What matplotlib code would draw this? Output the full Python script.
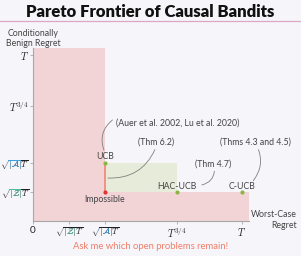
import matplotlib
matplotlib.use("Agg")
import matplotlib.pyplot as plt
from matplotlib.patches import Rectangle
from matplotlib.transforms import Bbox

plt.rcParams["font.family"] = ["Lato", "DejaVu Sans"]
plt.rcParams["mathtext.fontset"] = "cm"

BG = "#f6f5fa"
PINK = "#f2d3d6"
GREEN = "#e6ecd9"
GRAY = "#a8a8a8"
TXT = "#444444"
BLUE = "#3aa0e0"
TEAL = "#4cbfa0"

# positions on the (schematic) regret axes
SQRT_Z = 1.0
SQRT_A = 2.0
T34 = 4.0
T_X = 5.8
T_Y = 5.75
X_MAX = 6.0
Y_MAX = 6.0

x_ticks = [0, SQRT_Z, SQRT_A, T34, T_X]
x_labels = ["0", r"$\sqrt{|\mathcal{Z}|T}$", r"$\sqrt{|\mathcal{A}|T}$", r"$T^{3/4}$", r"$T$"]
y_ticks = [SQRT_Z, SQRT_A, T34, T_Y]
y_labels = [r"$\sqrt{|\mathcal{Z}|T}$", r"$\sqrt{|\mathcal{A}|T}$", r"$T^{3/4}$", r"$T$"]

algo_names = ["UCB", "HAC-UCB", "C-UCB"]
algo_x = [SQRT_A, T34, T_X]
algo_y = [SQRT_A, SQRT_Z, SQRT_Z]
impossible = (SQRT_A, SQRT_Z)

fig = plt.figure(figsize=(3.01, 2.56), dpi=100, facecolor=BG)
ax = fig.add_axes([33 / 301, 1 - 221 / 256, 216 / 301, 173 / 256])
ax.set_facecolor(BG)
ax.set_xlim(0, X_MAX)
ax.set_ylim(0, Y_MAX)

# dominated / impossible regions
ax.add_patch(Rectangle((0, 0), SQRT_A, Y_MAX, fc=PINK, ec="none", zorder=0))
ax.add_patch(Rectangle((0, 0), X_MAX, SQRT_Z, fc=PINK, ec="none", zorder=0))
ax.add_patch(Rectangle((SQRT_A, SQRT_Z), T34 - SQRT_A, SQRT_A - SQRT_Z, fc=GREEN, ec="none", zorder=0))

ax.plot([SQRT_A, SQRT_A], [SQRT_Z, SQRT_A], color="#f28474", lw=1.2, zorder=2)
ax.scatter(algo_x, algo_y, s=9, color="#8db541", zorder=3, lw=0)
ax.scatter([impossible[0]], [impossible[1]], s=9, color="#e0352e", zorder=3, lw=0)

for sp in ["top", "right"]:
    ax.spines[sp].set_visible(False)
for sp in ["left", "bottom"]:
    ax.spines[sp].set_color(GRAY)
    ax.spines[sp].set_linewidth(0.8)

ax.set_xticks(x_ticks, x_labels)
ax.set_yticks(y_ticks, y_labels)
ax.tick_params(colors=GRAY, length=2, width=0.6, labelcolor="#222222", pad=1.5)
ax.tick_params(axis="y", pad=1)
for lab in list(ax.get_xticklabels()) + list(ax.get_yticklabels()):
    lab.set_fontsize(6.3 if "sqrt" in lab.get_text() else 7.2)

fs = 6.3
ax.text(SQRT_A, 2.22, "UCB", ha="center", va="center", fontsize=fs, color=TXT)
ax.text(SQRT_A, 0.73, "Impossible", ha="center", va="center", fontsize=fs, color=TXT)
ax.text(T34, 1.19, "HAC-UCB", ha="center", va="center", fontsize=fs, color=TXT)
ax.text(T_X, 1.19, "C-UCB", ha="center", va="center", fontsize=fs, color=TXT)

line = dict(arrowstyle="-", color="#808080", lw=0.6, shrinkA=0, shrinkB=0)
ax.annotate("(Auer et al. 2002, Lu et al. 2020)", xy=(1.97, 2.46), xytext=(2.31, 3.41),
            ha="left", va="center", fontsize=fs, color=TXT, annotation_clip=False,
            arrowprops=dict(line, connectionstyle="arc3,rad=0.35", relpos=(-0.03, 0.8)))
ax.annotate("(Thm 6.2)", xy=(2.08, 1.49), xytext=(3.42, 2.73),
            ha="center", va="center", fontsize=fs, color=TXT, annotation_clip=False,
            arrowprops=dict(line, connectionstyle="arc3,rad=-0.35", relpos=(0.5, 0)))
ax.annotate("(Thm 4.7)", xy=(4.69, 1.25), xytext=(4.99, 1.98),
            ha="center", va="center", fontsize=fs, color=TXT, annotation_clip=False,
            arrowprops=dict(line, connectionstyle="arc3,rad=-0.4", relpos=(0.55, 0)))
ax.annotate("(Thms 4.3 and 4.5)", xy=(6.12, 1.40), xytext=(6.19, 2.73),
            ha="center", va="center", fontsize=fs, color=TXT, annotation_clip=False,
            arrowprops=dict(line, connectionstyle="arc3,rad=-0.3", relpos=(0.52, 0)))

fig.text(0.5, 0.953, "Pareto Frontier of Causal Bandits", ha="center", va="center",
         fontsize=12, fontweight="heavy", color="#111111")
fig.add_artist(plt.Line2D([0, 1], [0.918, 0.918], color="#dca7c4", lw=0.9, transform=fig.transFigure))
fig.text(33 / 301, 0.85, "Conditionally\nBenign Regret", ha="center", va="center",
         fontsize=fs, color=TXT, linespacing=1.2)
fig.text(0.986, 0.14, "Worst-Case\nRegret", ha="right", va="center", multialignment="right",
         fontsize=fs, color=TXT, linespacing=1.2)
fig.text(0.5, 0.036, "Ask me which open problems remain!", ha="center", va="center",
         fontsize=6.8, color="#f27e68")

# colour the |A| and |Z| parts of the sqrt tick labels with clipped overlays
fig.canvas.draw()
r = fig.canvas.get_renderer()


def width_of(s, size):
    t = fig.text(0, 0, s, fontsize=size)
    w = t.get_window_extent(r).width
    t.remove()
    return w


for lab in list(ax.get_xticklabels()) + list(ax.get_yticklabels()):
    s = lab.get_text()
    if "mathcal" not in s:
        continue
    letter = "A" if "{A}" in s else "Z"
    col = BLUE if letter == "A" else TEAL
    size = lab.get_fontsize()
    bb = lab.get_window_extent(r)
    w_t = width_of(r"$T$", size)
    w_mid = width_of(r"$|\mathcal{%s}|$" % letter, size)
    x1 = bb.x1 - w_t + 0.3
    x0 = x1 - w_mid - 0.6
    clip = Bbox([[x0, bb.y0 - 1], [x1, bb.y1 - 1.8]])
    ov = ax.text(*lab.get_position(), s, transform=lab.get_transform(), ha=lab.get_ha(),
                 va=lab.get_va(), fontsize=size, color=col)
    ov.set_clip_on(True)
    ov.set_clip_box(clip)

fig.savefig("out.png", dpi=100, facecolor=BG)
